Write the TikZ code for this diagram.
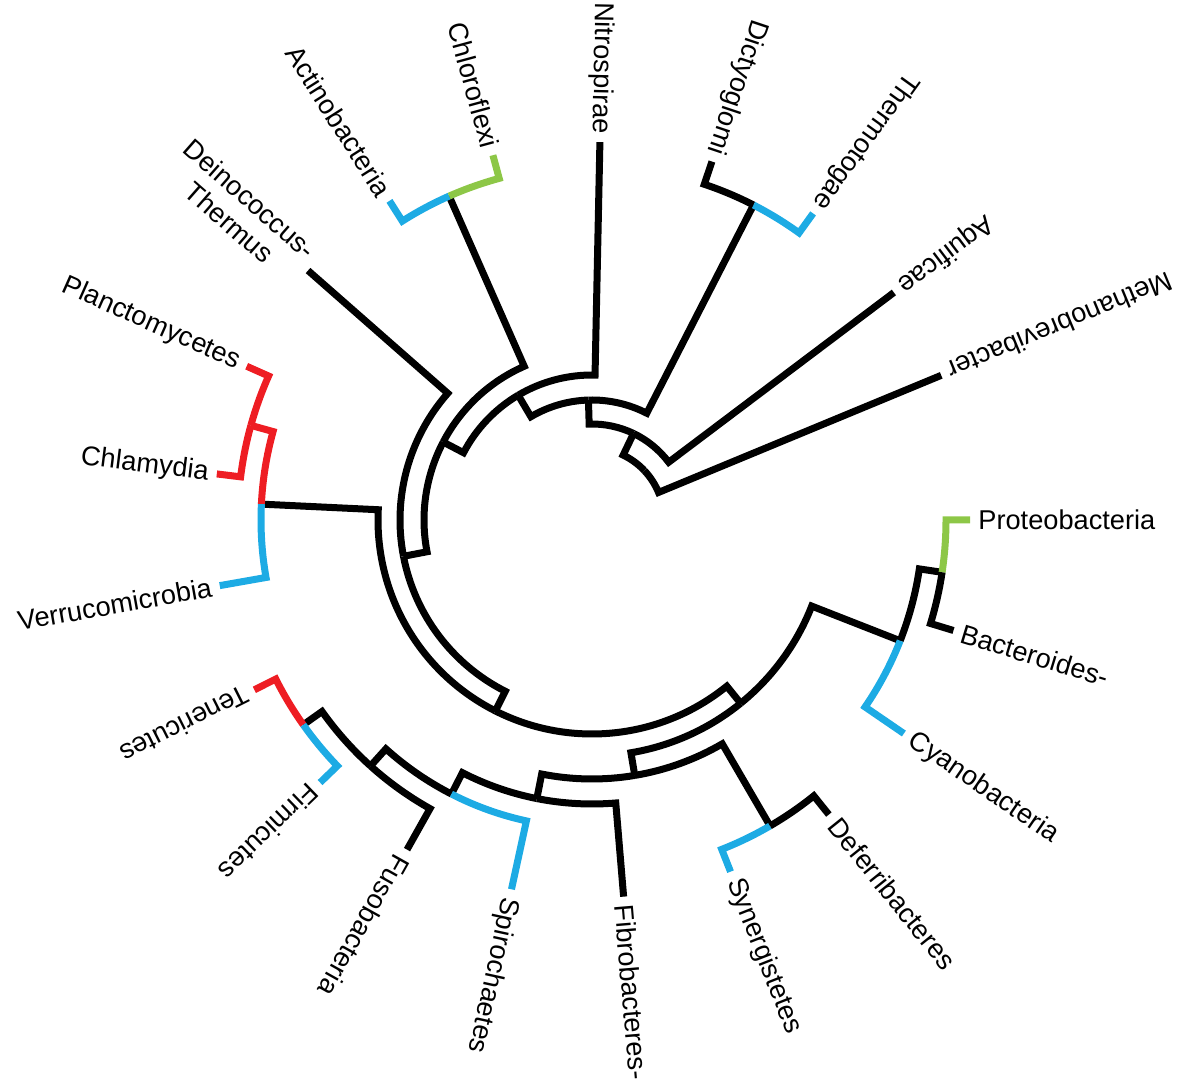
\documentclass[tikz,border=0pt]{standalone}
\usepackage{fontspec}
\setmainfont{Liberation Sans}
\usetikzlibrary{calc}
\definecolor{cladeBlue}{RGB}{29,171,228}
\definecolor{cladeGreen}{RGB}{141,199,71}
\definecolor{cladeRed}{RGB}{238,29,35}
\newcommand{\limb}[5]{\draw[branch, #1] (#2:#3) -- (#2:#5) arc[start angle=#2, end angle=#4, radius=#5];}

\begin{document}
\begin{tikzpicture}[x=0.5pt, y=0.5pt,
    branch/.style={line width=3.5pt, line join=miter},
    taxon/.style={font=\fontsize{13.6}{15.5}\selectfont, align=center, inner sep=4pt}]
  \useasboundingbox (0,0) rectangle (1200,1082);
  \begin{scope}[shift={(592,562)}]
    % child angle / child radius / node angle / node radius
    \foreach \col/\ca/\cr/\na/\nr in {
        black/22.5/378/43.2/72, black/64.35/96/43.2/72,
        black/37/378/64.35/96, black/91.7/120/64.35/96,
        black/62.85/354/91.7/120, black/120.6/145/91.7/120,
        black/88.8/378/120.6/145, black/152.35/168/120.6/145,
        black/113.8/354/152.35/168, black/190.9/192/152.35/168,
        black/138.7/378/190.9/192, black/243.15/214/190.9/192,
        black/177.25/331/243.15/214, black/309.05/236/243.15/214,
        black/279.5/259/309.05/236, black/338.6/331/309.05/236,
        black/258.8/284/279.5/259, black/300.2/354/279.5/259,
        black/242.85/308/258.8/284, black/274.8/378/258.8/284,
        black/228/331/242.85/308, cladeBlue/257.7/378/242.85/308,
        black/215.35/354/228/331, black/240.7/378/228/331,
        cladeRed/206.7/378/215.35/354, cladeBlue/224/378/215.35/354,
        cladeRed/164.5/354/177.25/331, cladeBlue/190/378/177.25/331,
        cladeRed/156/378/164.5/354, cladeRed/173/378/164.5/354,
        cladeBlue/122.4/378/113.8/354, cladeGreen/105.2/378/113.8/354,
        black/71.5/378/62.85/354, cladeBlue/54.2/378/62.85/354,
        cladeBlue/291.5/378/300.2/354, black/308.8/378/300.2/354,
        black/351.5/354/338.6/331, cladeBlue/325.6/378/338.6/331,
        cladeGreen/360/378/351.5/354, black/343/378/351.5/354}
      {\limb{\col}{\ca}{\cr}{\na}{\nr}}
    \foreach \ang/\txt/\nm in {22.5/Methanobrevibacter/methano, 37/Aquificae/aquif,
        54.2/Thermotogae/thermo, 71.5/Dictyoglomi/dicty, 88.8/Nitrospirae/nitro,
        105.2/Chloroflexi/chloro, 122.4/Actinobacteria/actino,
        138.7/{Deinococcus-\\Thermus}/deino, 156/Planctomycetes/plancto,
        173/Chlamydia/chlamy, 190/Verrucomicrobia/verruco}
      \node[taxon, anchor=east, rotate=\ang+180] (\nm) at (\ang:378) {\txt};
    \foreach \ang/\txt/\nm in {206.7/Tenericutes/teneri, 224/Firmicutes/firmi,
        240.7/Fusobacteria/fuso, 257.7/Spirochaetes/spiro, 274.8/Fibrobacteres-/fibro,
        291.5/Synergistetes/synerg, 308.8/Deferribacteres/deferri,
        325.6/Cyanobacteria/cyano, 343/Bacteroides-/bactero, 360/Proteobacteria/proteo}
      \node[taxon, anchor=west, rotate=\ang] (\nm) at (\ang:378) {\txt};
  \end{scope}
\end{tikzpicture}
\end{document}
